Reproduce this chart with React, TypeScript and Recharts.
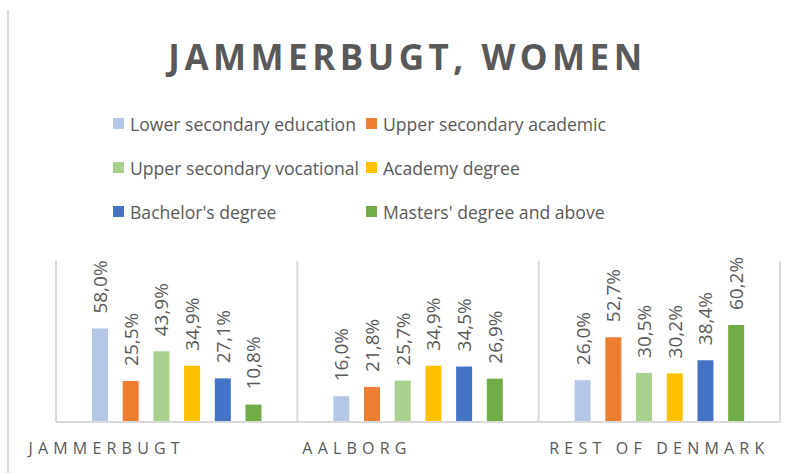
import { BarChart, Bar, XAxis, YAxis, CartesianGrid, LabelList } from 'recharts'

const categories = ['JAMMERBUGT', 'AALBORG', 'REST OF DENMARK']
const seriesNames = [
  'Lower secondary education',
  'Upper secondary academic',
  'Upper secondary vocational',
  'Academy degree',
  "Bachelor's degree",
  "Masters' degree and above",
]
const lowerSecondary = [58.0, 16.0, 26.0]
const upperAcademic = [25.5, 21.8, 52.7]
const upperVocational = [43.9, 25.7, 30.5]
const academy = [34.9, 34.9, 30.2]
const bachelor = [27.1, 34.5, 38.4]
const masters = [10.8, 26.9, 60.2]

const seriesValues = [lowerSecondary, upperAcademic, upperVocational, academy, bachelor, masters]
const colors = ['#B4C7E7', '#ED7D31', '#A9D18E', '#FFC000', '#4472C4', '#70AD47']

const data = categories.map((name, i) => {
  const row: { [key: string]: string | number } = { name }
  seriesValues.forEach((vals, s) => {
    row[`s${s}`] = vals[i]
  })
  return row
})

const FONT = '"Open Sans", sans-serif'
const TEXT = '#595959'
const GRID = '#d9d9d9'
// Excel put the category labels off-centre; shift them the same way
const tickShift = [-70, -61, 0]

function fmt(v: number) {
  return v.toFixed(1).replace('.', ',') + '%'
}

function ValueLabel(props: any) {
  const { x, y, width, value } = props
  const cx = x + width / 2
  const cy = y - 15
  return (
    <text
      x={cx}
      y={cy}
      transform={`rotate(-90, ${cx}, ${cy})`}
      textAnchor="start"
      dominantBaseline="central"
      fill={TEXT}
      fontSize={19}
      fontFamily={FONT}
    >
      {fmt(value)}
    </text>
  )
}

function CategoryTick(props: any) {
  const { x, y, payload, index } = props
  return (
    <text
      x={x + tickShift[index]}
      y={y + 24}
      textAnchor="middle"
      fill={TEXT}
      fontSize={16}
      fontFamily={FONT}
      letterSpacing={5.2}
    >
      {payload.value}
    </text>
  )
}

function LegendGrid() {
  return (
    <div
      style={{
        position: 'absolute',
        left: 113,
        top: 110,
        display: 'grid',
        gridTemplateColumns: '253px 260px',
        rowGap: 17,
        fontFamily: FONT,
        fontSize: 17.6,
        color: TEXT,
      }}
    >
      {seriesNames.map((n, i) => (
        <div key={n} style={{ display: 'flex', alignItems: 'center', height: 27 }}>
          <span style={{ width: 11, height: 11, background: colors[i], marginRight: 6 }} />
          {n}
        </div>
      ))}
    </div>
  )
}

export default function App() {
  return (
    <div style={{ position: 'absolute', left: 0, top: 0, width: 800, height: 473, background: '#fff' }}>
      <div style={{ position: 'absolute', left: 7, top: 10, width: 2, height: 463, background: GRID }} />
      <div
        style={{
          position: 'absolute',
          left: 0,
          width: 815,
          top: 33,
          textAlign: 'center',
          fontFamily: FONT,
          fontWeight: 700,
          fontSize: 35,
          letterSpacing: 4.5,
          color: TEXT,
        }}
      >
        JAMMERBUGT, WOMEN
      </div>
      <LegendGrid />
      <div style={{ position: 'absolute', left: 0, top: 0 }}>
        <BarChart
          width={800}
          height={473}
          data={data}
          margin={{ top: 261, right: 20, left: 56, bottom: 0 }}
          barSize={16}
          barGap={14.7}
        >
          <CartesianGrid
            horizontal={false}
            stroke={GRID}
            strokeWidth={2}
            verticalCoordinatesGenerator={({ offset }: any) => [
              offset.left,
              offset.left + offset.width / 3,
              offset.left + (offset.width * 2) / 3,
              offset.left + offset.width,
            ]}
          />
          <XAxis
            dataKey="name"
            height={51}
            axisLine={{ stroke: GRID, strokeWidth: 2 }}
            tickLine={false}
            tick={<CategoryTick />}
          />
          <YAxis hide domain={[0, 100]} />
          {seriesNames.map((n, s) => (
            <Bar key={n} dataKey={`s${s}`} name={n} fill={colors[s]} isAnimationActive={false}>
              <LabelList dataKey={`s${s}`} content={<ValueLabel />} />
            </Bar>
          ))}
        </BarChart>
      </div>
    </div>
  )
}
